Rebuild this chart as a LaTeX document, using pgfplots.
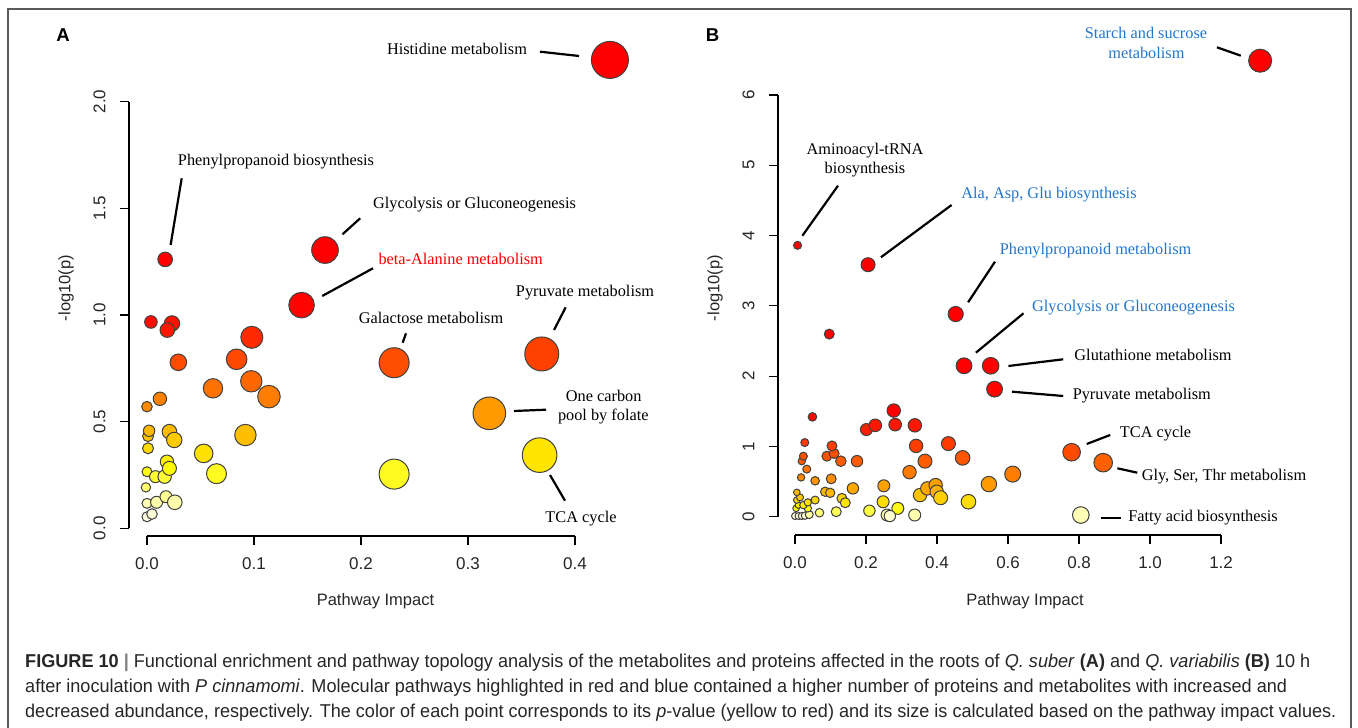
\documentclass[border=0pt]{standalone}
\usepackage{pgfplots}
\pgfplotsset{compat=1.18}
\usepackage{graphicx}
\usepackage{fontspec}
\setmainfont{Liberation Serif}
\setsansfont{Liberation Sans}
\definecolor{labblue}{RGB}{34,119,204}
\tikzset{
  lab/.style={font={\fontsize{16.3}{19}\selectfont}, inner sep=0pt, anchor=base},
  lead/.style={line width=2.2pt, black},
  ttl/.style={font={\fontsize{16.5}{20}\sffamily}, inner sep=0pt, anchor=center, text=black!85},
}
\pgfplotsset{
  heatmap/.style={
    colormap={heat}{rgb255(0pt)=(250,250,245); rgb255(10pt)=(255,255,200); rgb255(20pt)=(255,255,110); rgb255(30pt)=(255,250,0); rgb255(40pt)=(255,215,0); rgb255(50pt)=(255,175,0); rgb255(60pt)=(255,140,0); rgb255(75pt)=(255,85,0); rgb255(90pt)=(255,35,0); rgb255(100pt)=(255,0,0)},
    point meta min=0, point meta max=1},
  rstyle/.style={
    scale only axis, clip=false,
    axis x line*=bottom, axis y line*=left,
    axis line style={draw=none},
    tick align=outside, major tick length=9pt,
    every tick/.style={black, line width=1.2pt},
    tick label style={font={\fontsize{17}{20}\sffamily}, text=black!85},
    xticklabel style={yshift=-9pt},
    yticklabel style={rotate=90, anchor=south, yshift=11pt},
  },
  bubbles/.style={scatter, only marks, mark=*, point meta=explicit,
    scatter/use mapped color={draw=black!75, fill=mapped color},
    mark options={line width=1pt},
    visualization depends on={\thisrow{r}\as\rr},
    scatter/@pre marker code/.append style={/tikz/mark size=\rr}},
}
\begin{document}
\begin{tikzpicture}
\useasboundingbox (0pt,0pt) rectangle (1358pt,728pt);
\draw[black!65, line width=1.5pt] (8pt,-2pt) -- (8pt,719pt) -- (1351pt,719pt) -- (1351pt,-2pt);
\node[font={\fontsize{18.6}{22}\sffamily\bfseries}, anchor=base, inner sep=0] at (63pt,686.3pt) {A};
\node[font={\fontsize{18.6}{22}\sffamily\bfseries}, anchor=base, inner sep=0] at (712.7pt,686.3pt) {B};

% ---------------- Panel A ----------------
\begin{axis}[rstyle, heatmap,
  at={(129pt,192pt)}, anchor=south west,
  width=493pt, height=495.5pt,
  xmin=-0.0168, xmax=0.444, ymin=-0.036, ymax=2.286,
  xtick={0,0.1,0.2,0.3,0.4}, xticklabels={0.0,0.1,0.2,0.3,0.4},
  ytick={0,0.5,1,1.5,2}, yticklabels={0.0,0.5,1.0,1.5,2.0},
]
\draw[line width=1.2pt] (axis cs:0,-0.036) -- (axis cs:0.4,-0.036);
\draw[line width=1.2pt] (axis cs:-0.0168,0) -- (axis cs:-0.0168,2);
\addplot[bubbles] table[x=x, y=y, meta=c]{
x y r c
0.0 0.054 5 0.04
0.0047 0.067 5.3 0.06
0.0 0.117 5 0.12
0.009 0.122 6 0.13
0.0178 0.148 6 0.16
0.026 0.122 7.3 0.13
-0.001 0.192 4.7 0.2
0.0 0.265 5 0.28
0.008 0.242 6 0.25
0.0165 0.242 6.7 0.25
0.0187 0.312 6.7 0.33
0.021 0.281 7 0.3
0.001 0.375 5.5 0.39
0.001 0.432 5.5 0.45
0.002 0.457 5.7 0.48
0.021 0.453 7.3 0.47
0.0255 0.414 7.7 0.43
0.0 0.57 5.3 0.6
0.0121 0.607 6.7 0.63
0.0293 0.778 8.3 0.78
0.0037 0.967 6.3 0.96
0.0234 0.960 7.7 0.95
0.019 0.929 7.3 0.93
0.017 1.26 7.3 1
0.053 0.351 9.3 0.37
0.065 0.256 10 0.27
0.092 0.437 10.7 0.46
0.0617 0.656 9.7 0.67
0.0838 0.792 10.3 0.79
0.098 0.895 11 0.88
0.0975 0.689 10.7 0.7
0.114 0.617 11.3 0.64
0.1445 1.046 12.8 0.99
0.1664 1.304 13.3 1
0.231 0.776 15 0.77
0.231 0.254 15 0.27
0.320 0.539 16.3 0.56
0.369 0.817 17 0.81
0.367 0.343 17.3 0.36
0.4327 2.195 18.5 1
};
\end{axis}
\node[ttl] at (375.5pt,127pt) {Pathway Impact};
\node[ttl, rotate=90] at (66pt,440pt) {-log10(p)};

\node[lab] at (457pt,673.6pt) {Histidine metabolism};
\draw[lead] (540pt,676.3pt) -- (579pt,672pt);
\node[lab] at (276pt,562.6pt) {Phenylpropanoid biosynthesis};
\draw[lead] (181.7pt,549.7pt) -- (170.6pt,483pt);
\node[lab] at (474.5pt,519.9pt) {Glycolysis or Gluconeogenesis};
\draw[lead] (360.2pt,509.7pt) -- (342.5pt,493.7pt);
\node[lab, text=red] at (460.7pt,463.3pt) {beta-Alanine metabolism};
\draw[lead] (373pt,459.7pt) -- (322.2pt,432pt);
\node[lab] at (585pt,431.6pt) {Pyruvate metabolism};
\draw[lead] (565.7pt,420.7pt) -- (554pt,398pt);
\node[lab] at (431pt,404.3pt) {Galactose metabolism};
\draw[lead] (406pt,394.7pt) -- (402.7pt,385.3pt);
\node[lab] at (603.7pt,326.6pt) {One carbon};
\node[lab] at (603.3pt,307.6pt) {pool by folate};
\draw[lead] (514pt,317pt) -- (546pt,318.3pt);
\node[lab] at (581pt,205.9pt) {TCA cycle};
\draw[lead] (550pt,253pt) -- (565pt,227.3pt);

% ---------------- Panel B ----------------
\begin{axis}[rstyle, heatmap,
  at={(778pt,193pt)}, anchor=south west,
  width=494.2pt, height=494.2pt,
  xmin=-0.048, xmax=1.344, ymin=-0.26, ymax=6.77,
  xtick={0,0.2,0.4,0.6,0.8,1.0,1.2}, xticklabels={0.0,0.2,0.4,0.6,0.8,1.0,1.2},
  ytick={0,1,2,3,4,5,6}, yticklabels={0,1,2,3,4,5,6},
]
\draw[line width=1.2pt] (axis cs:0,-0.26) -- (axis cs:1.2,-0.26);
\draw[line width=1.2pt] (axis cs:-0.048,0) -- (axis cs:-0.048,6);
\addplot[bubbles] table[x=x, y=y, meta=c]{
x y r c
0 0.01 3.5 0.04
0.01 0.01 3.5 0.05
0.019 0.01 3.5 0.06
0.028 0.015 3.7 0.08
0.04 0.03 4 0.14
0.003 0.119 3.3 0.28
0.036 0.119 3.7 0.28
0.0094 0.166 3.3 0.33
0.0235 0.166 3.7 0.33
0.036 0.204 3.7 0.37
0.005 0.237 3.3 0.4
0.014 0.275 3.5 0.43
0.005 0.346 3.3 0.48
0.017 0.559 3.7 0.61
0.033 0.677 4 0.67
0.019 0.79 3.7 0.73
0.0235 0.861 4 0.76
0.0274 1.055 4 0.84
0.049 1.42 4.3 0.97
0.007 3.86 4 1
0.0566 0.511 4.3 0.58
0.0566 0.237 4 0.4
0.0688 0.057 4.3 0.19
0.085 0.355 4.7 0.49
0.099 0.34 4.7 0.48
0.1018 0.539 5 0.6
0.0897 0.861 5 0.76
0.110 0.899 5 0.77
0.104 1.007 5 0.82
0.0964 2.598 5 1
0.116 0.071 5 0.22
0.132 0.261 5 0.42
0.1415 0.199 5 0.36
0.129 0.79 5.3 0.73
0.1745 0.79 5.7 0.73
0.163 0.403 5.7 0.52
0.2094 0.085 5.7 0.24
0.201 1.24 6 0.91
0.226 1.30 6.3 0.93
0.278 1.51 6.7 1
0.282 1.31 6.3 0.93
0.3375 1.30 6.7 0.93
0.2057 3.585 7 1
0.248 0.213 6 0.38
0.25 0.44 6 0.54
0.2895 0.119 6 0.28
0.2594 0.024 6 0.13
0.267 0.01 5.7 0.08
0.337 0.024 6 0.13
0.3225 0.634 6.7 0.65
0.341 1.007 6.7 0.82
0.366 0.79 7 0.73
0.352 0.308 6.7 0.45
0.3725 0.403 6.7 0.52
0.396 0.45 6.7 0.55
0.399 0.355 6.7 0.49
0.410 0.27 7 0.42
0.432 1.04 7 0.83
0.472 0.837 7.3 0.75
0.4885 0.213 7.3 0.38
0.4525 2.883 7.6 1
0.476 2.147 7.9 1
0.551 2.147 8.3 1
0.562 1.815 7.9 0.99
0.546 0.464 7.7 0.56
0.613 0.606 8 0.64
0.779 0.917 8.8 0.78
0.868 0.769 9.3 0.72
0.805 0.024 8.3 0.12
1.310 6.487 11.5 1
};
\end{axis}
\node[ttl] at (1025pt,127pt) {Pathway Impact};
\node[ttl, rotate=90] at (715pt,440pt) {-log10(p)};

\node[lab, text=labblue] at (1146pt,689.3pt) {Starch and sucrose};
\node[lab, text=labblue] at (1146.4pt,669.9pt) {metabolism};
\draw[lead] (1216.9pt,680.7pt) -- (1240.8pt,672.3pt);
\node[lab] at (865pt,573.6pt) {Aminoacyl-tRNA};
\node[lab] at (865pt,554.3pt) {biosynthesis};
\draw[lead] (838pt,542.3pt) -- (802.4pt,492.3pt);
\node[lab, text=labblue] at (1049pt,529.3pt) {Ala, Asp, Glu biosynthesis};
\draw[lead] (951.6pt,523pt) -- (880.9pt,470.7pt);
\node[lab, text=labblue] at (1095.6pt,473.6pt) {Phenylpropanoid metabolism};
\draw[lead] (995pt,466.3pt) -- (968.1pt,425.7pt);
\node[lab, text=labblue] at (1133.5pt,416.3pt) {Glycolysis or Gluconeogenesis};
\draw[lead] (1023.5pt,414.7pt) -- (975.9pt,375.3pt);
\node[lab] at (1153pt,367.6pt) {Glutathione metabolism};
\draw[lead] (1063.2pt,368.7pt) -- (1008.4pt,362pt);
\node[lab] at (1141.8pt,328.3pt) {Pyruvate metabolism};
\draw[lead] (1063.2pt,332pt) -- (1012pt,336.3pt);
\node[lab] at (1155.5pt,290.9pt) {TCA cycle};
\draw[lead] (1110.2pt,293pt) -- (1086.7pt,284pt);
\node[lab] at (1224pt,247.6pt) {Gly, Ser, Thr metabolism};
\draw[lead] (1137.3pt,255.3pt) -- (1117.4pt,259.7pt);
\node[lab] at (1203pt,206.9pt) {Fatty acid biosynthesis};
\draw[lead] (1101.2pt,210.3pt) -- (1121pt,210.3pt);

% ---------------- Caption ----------------
\begin{scope}[every node/.style={anchor=base west, inner sep=0pt, text=black!85}]
\node at (25pt,60.7pt) {\resizebox{1285pt}{\height}{\fontsize{18.6}{22}\sffamily\textbf{FIGURE 10} {\color{black!50}\textbf{|}} Functional enrichment and pathway topology analysis of the metabolites and proteins affected in the roots of \textit{Q. suber} \textbf{(A)} and \textit{Q. variabilis} \textbf{(B)} 10 h}};
\node at (25pt,35.5pt) {\resizebox{1262pt}{\height}{\fontsize{18.6}{22}\sffamily after inoculation with \textit{P cinnamomi}. Molecular pathways highlighted in red and blue contained a higher number of proteins and metabolites with increased and}};
\node at (25pt,10.5pt) {\resizebox{1311pt}{\height}{\fontsize{18.6}{22}\sffamily decreased abundance, respectively. The color of each point corresponds to its \textit{p}-value (yellow to red) and its size is calculated based on the pathway impact values.}};
\end{scope}
\end{tikzpicture}
\end{document}
